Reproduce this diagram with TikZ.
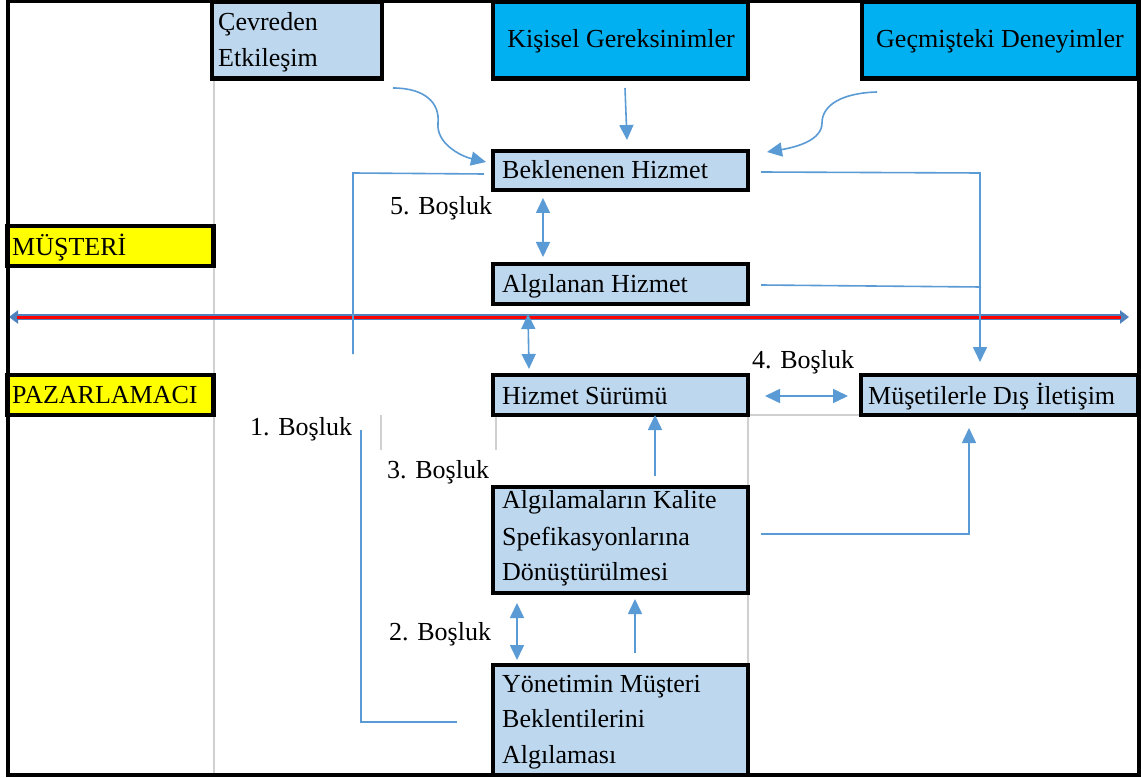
\documentclass[tikz,border=0pt]{standalone}
\usepackage{fontspec}
\setmainfont{Liberation Serif}
\usetikzlibrary{arrows.meta}

\definecolor{cellblue}{HTML}{BDD7EE}
\definecolor{headcyan}{HTML}{00B0F0}
\definecolor{sideyellow}{HTML}{FFFF00}
\definecolor{connblue}{HTML}{5B9BD5}
\definecolor{gridgray}{HTML}{D0D0D0}
\definecolor{bandblue}{HTML}{4F81BD}
\definecolor{bandred}{HTML}{FF0000}

\tikzset{
  cellbox/.style={draw=black, line width=4.5pt, inner sep=0pt, outer sep=0pt, anchor=north west},
  lbox/.style={cellbox, fill=cellblue},
  cbox/.style={cellbox, fill=headcyan},
  ybox/.style={cellbox, fill=sideyellow},
  txt/.style={inner sep=0pt, font=\fontsize{26}{31}\selectfont, anchor=base west},
  ctxt/.style={txt, anchor=base},
  conn/.style={draw=connblue, line width=1.6pt},
  tip/.style={conn, -{Triangle[length=15pt,width=14pt]}},
  dtip/.style={conn, {Triangle[length=15pt,width=14pt]}-{Triangle[length=15pt,width=14pt]}},
  gridline/.style={draw=gridgray, line width=1.5pt}
}

\begin{document}
\begin{tikzpicture}[x=1pt, y=-1pt]
\useasboundingbox (0,0) rectangle (1141,778);
\fill[white] (0,0) rectangle (1141,778);

% sheet grid lines
\draw[gridline] (214,79) -- (214,774);
\draw[gridline] (381,415) -- (381,450);
\draw[gridline] (496,415) -- (496,450);
\draw[gridline] (748,415) -- (748,774);
\draw[gridline] (748,415) -- (861,415);

% boxes
\node[lbox, minimum width=170, minimum height=77] (cev) at (212,1.5) {};
\node[cbox, minimum width=255, minimum height=77] (kis) at (493,1.5) {};
\node[cbox, minimum width=276, minimum height=77] (gec) at (862,1.5) {};
\node[lbox, minimum width=255, minimum height=39] (bek) at (493,151) {};
\node[lbox, minimum width=255, minimum height=40] (alg) at (493,264) {};
\node[ybox, minimum width=206, minimum height=40] (mus) at (7.5,226) {};
\node[ybox, minimum width=206, minimum height=40] (paz) at (7.5,375) {};
\node[lbox, minimum width=255, minimum height=40] (sur) at (493,375) {};
\node[lbox, minimum width=277, minimum height=40] (dis) at (861,375) {};
\node[lbox, minimum width=255, minimum height=106] (kal) at (493,487) {};
\node[lbox, minimum width=255, minimum height=110] (yon) at (493,665) {};

% box texts
\node[txt] (cev1) at (218,31) {Çevreden};
\node[txt] (cev2) at (218,67) {Etkileşim};
\node[ctxt] (kist) at (621,48) {Kişisel Gereksinimler};
\node[ctxt] (gect) at (1000,48) {Geçmişteki Deneyimler};
\node[txt] (bekt) at (502,179) {Beklenenen Hizmet};
\node[txt] (algt) at (502,293) {Algılanan Hizmet};
\node[txt] (must) at (12,255) {MÜŞTERİ};
\node[txt] (pazt) at (12,403) {PAZARLAMACI};
\node[txt] (surt) at (502,404) {Hizmet Sürümü};
\node[txt] (dist) at (868,404) {Müşetilerle Dış İletişim};
\node[txt] (kal1) at (502,508) {Algılamaların Kalite};
\node[txt] (kal2) at (502,545) {Spefikasyonlarına};
\node[txt] (kal3) at (502,580) {Dönüştürülmesi};
\node[txt] (yon1) at (502,692) {Yönetimin Müşteri};
\node[txt] (yon2) at (502,727) {Beklentilerini};
\node[txt] (yon3) at (502,763) {Algılaması};

% gap labels
\node[txt] (gap5) at (390,215) {5. Boşluk};
\node[txt] (gap1) at (250,435) {1. Boşluk};
\node[txt] (gap3) at (387,478) {3. Boşluk};
\node[txt] (gap2) at (389,640) {2. Boşluk};
\node[txt] (gap4) at (752,368) {4. Boşluk};

% connector end points
\coordinate (cevA) at (393,88);
\coordinate (cevB) at (486,162);
\coordinate (kisA) at (625,88);
\coordinate (kisB) at (627,140);
\coordinate (gecA) at (877,92);
\coordinate (gecB) at (767,152);
\coordinate (bekR) at (761,172);
\coordinate (bekC) at (980,173);
\coordinate (disT) at (980,362);
\coordinate (algR) at (761,285);
\coordinate (algC) at (981,287);
\coordinate (sepL) at (9,317);
\coordinate (sepR) at (1129,317);
\coordinate (g5A) at (543,198);
\coordinate (g5B) at (543,257);
\coordinate (asA) at (528,314);
\coordinate (asB) at (529,369);
\coordinate (bekL) at (484,174);
\coordinate (bekLC) at (353,173);
\coordinate (bekLE) at (353,354);
\coordinate (g1A) at (361,430);
\coordinate (g1C) at (361,722);
\coordinate (g1B) at (457,722);
\coordinate (g4A) at (765,396);
\coordinate (g4B) at (848,396);
\coordinate (kalT) at (655,476);
\coordinate (surB) at (655,415);
\coordinate (kalR) at (761,534);
\coordinate (kalC) at (969,534);
\coordinate (disB) at (969,428);
\coordinate (g2A) at (517,603);
\coordinate (g2B) at (517,660);
\coordinate (yonT) at (635,653);
\coordinate (kalB) at (635,599);

% customer / marketer separator
\draw[draw=bandblue, line width=6pt, {Triangle[length=9pt,width=13pt]}-{Triangle[length=9pt,width=13pt]}] (sepL) -- (sepR);
\draw[draw=bandred, line width=3pt] ([xshift=8pt]sepL) -- ([xshift=-8pt]sepR);

% connectors
\draw[tip] (cevA) .. controls (425,88) and (440,103) .. (438,123)
  .. controls (436,143) and (460,156) .. (cevB);
\draw[tip] (kisA) -- (kisB);
\draw[tip] (gecA) .. controls (842,93) and (822,105) .. (822,123)
  .. controls (822,140) and (797,147) .. (gecB);
\draw[tip] (bekR) -- (bekC) -- (disT);
\draw[conn] (algR) -- (algC);
\draw[dtip] (g5A) -- (g5B);
\draw[dtip] (asA) -- (asB);
\draw[conn] (bekL) -- (bekLC) -- (bekLE);
\draw[conn] (g1A) -- (g1C) -- (g1B);
\draw[dtip] (g4A) -- (g4B);
\draw[tip] (kalT) -- (surB);
\draw[tip] (kalR) -- (kalC) -- (disB);
\draw[dtip] (g2A) -- (g2B);
\draw[tip] (yonT) -- (kalB);

% outer frame
\draw[line width=4pt] (7.5,1.5) rectangle (1139,775);
\end{tikzpicture}
\end{document}
